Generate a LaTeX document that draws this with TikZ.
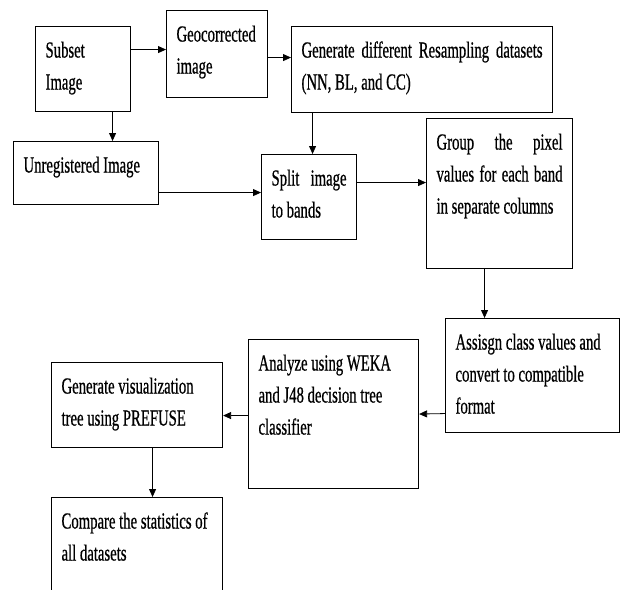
\documentclass[tikz,border=0pt]{standalone}
\usepackage{fontspec}
\setmainfont{Liberation Serif}[FakeStretch=0.64,FakeBold=0.6]
\usetikzlibrary{arrows.meta}
\newcommand{\boxtext}[3]{\begin{minipage}[t][#2][t]{#1}\rule{0pt}{31pt}#3\end{minipage}}

\begin{document}
\begin{tikzpicture}[x=1pt,y=1pt,
	block/.style={draw,line width=1.1pt,anchor=north west,inner xsep=10pt,inner ysep=0pt,font=\fontsize{23}{32}\selectfont},
	link/.style={line width=0.8pt,-{Triangle[length=8pt,width=7pt]}}]

	\useasboundingbox (0,0) rectangle (621,-589);

	\node[block] (subset) at (35,-26) {\boxtext{75pt}{85pt}{Subset\\Image}};
	\node[block] (geo) at (166,-10) {\boxtext{81pt}{87pt}{Geocorrected\\image}};
	\node[block] (resamp) at (291,-26) {\boxtext{241pt}{86pt}{Generate different Resampling datasets\linebreak (NN, BL, and CC)}};
	\node[block] (unreg) at (13,-141) {\boxtext{125pt}{63pt}{Unregistered Image}};
	\node[block] (split) at (261,-154) {\boxtext{75pt}{85pt}{Split image\linebreak to bands}};
	\node[block] (group) at (426,-118) {\boxtext{126pt}{150pt}{Group the pixel\linebreak values for each band\linebreak in separate columns}};
	\node[block] (assign) at (445,-318) {\boxtext{154pt}{114pt}{Assisgn class values and\\convert to compatible\\format}};
	\node[block] (analyze) at (248,-339) {\boxtext{150pt}{149pt}{Analyze using WEKA\\and J48 decision tree\\classifier}};
	\node[block] (genvis) at (51,-362) {\boxtext{151pt}{85pt}{Generate visualization\\tree using PREFUSE}};
	\node[block] (compare) at (51,-497) {\boxtext{151pt}{100pt}{Compare the statistics of\\all datasets}};

	\path[link] ([yshift=19.5pt]subset.east) edge ([yshift=4.5pt]geo.west);
	\path[link] ([yshift=-3.5pt]geo.east) edge ([yshift=12pt]resamp.west);
	\path[link] ([xshift=29.5pt]subset.south) edge ([xshift=26.5pt]unreg.north);
	\path[link] ([xshift=-109.5pt]resamp.south) edge ([xshift=3.5pt]split.north);
	\path[link] ([yshift=-19.5pt]unreg.east) edge ([yshift=4.5pt]split.west);
	\path[link] ([yshift=14.5pt]split.east) edge ([yshift=11pt]group.west);
	\path[link] ([xshift=-15pt]group.south) edge ([xshift=-48pt]assign.north);
	\path[link] ([yshift=-38pt]assign.west) edge (analyze.east);
	\path[link] ([yshift=-1.5pt]analyze.west) edge ([yshift=-10.5pt]genvis.east);
	\path[link] ([xshift=15.5pt]genvis.south) edge ([xshift=15.5pt]compare.north);

\end{tikzpicture}
\end{document}
